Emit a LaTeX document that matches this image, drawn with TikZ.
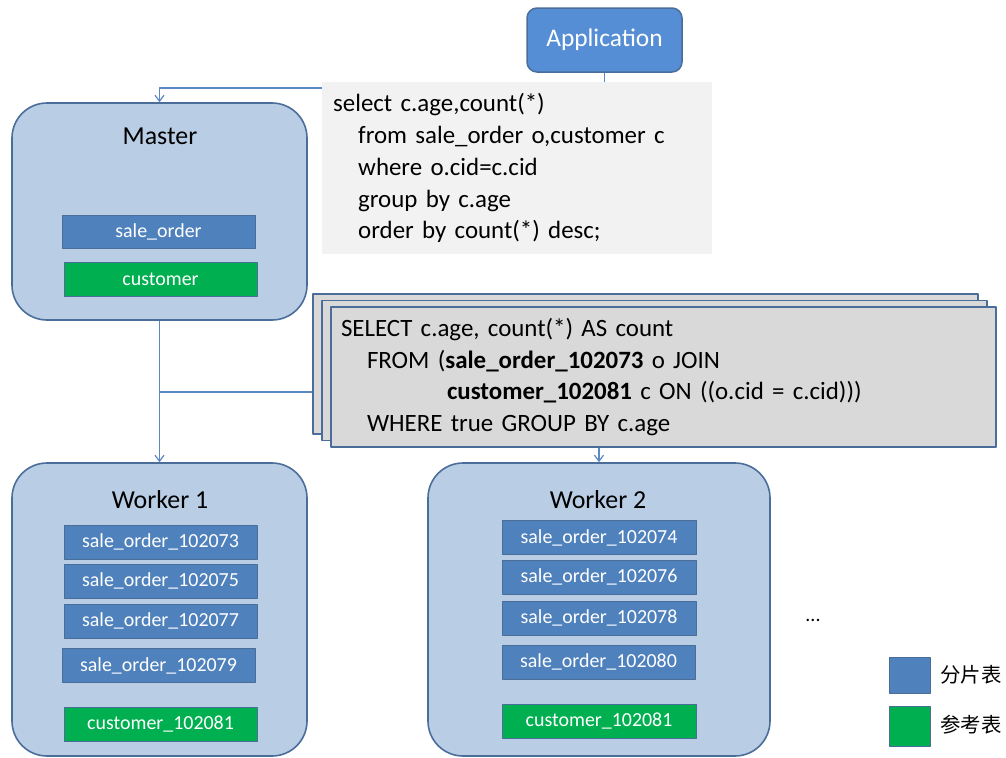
\documentclass[tikz,border=0pt]{standalone}
\usepackage{fontspec}
\setmainfont{Carlito}
\newfontfamily\cjk{Noto Sans CJK SC}
\usetikzlibrary{arrows.meta}

\definecolor{hostfill}{HTML}{B9CDE5}
\definecolor{hostline}{HTML}{4A6D9A}
\definecolor{appfill}{HTML}{558ED5}
\definecolor{shardfill}{HTML}{4F81BD}
\definecolor{reffill}{HTML}{00B050}
\definecolor{sqlfill}{HTML}{F2F2F2}
\definecolor{planfill}{HTML}{D9D9D9}
\definecolor{connline}{HTML}{5B87C5}

\begin{document}
\begin{tikzpicture}[>={Straight Barb[length=6bp,width=9bp]},line join=bevel,
  host/.style={draw=hostline,fill=hostfill,line width=1.6bp,rounded corners=35bp,
    inner sep=0pt},
  shard/.style={draw=hostline,fill=shardfill,line width=1bp,text=white,
    minimum width=193bp,minimum height=34bp,inner sep=0pt,font=\fontsize{20}{22}\selectfont},
  ref/.style={shard,fill=reffill},
  title/.style={font=\fontsize{26}{28}\selectfont},
  plan/.style={draw=hostline,fill=planfill,line width=1.2bp,minimum width=665bp,
    minimum height=140bp,inner sep=0pt},
  conn/.style={connline,line width=1.2bp},
]
\useasboundingbox (0bp,0bp) rectangle (1006bp,-758bp);
%%
\node (node_app) at (604.5bp,-40bp) [draw=hostline,fill=appfill,line width=1.5bp,
  rounded corners=10bp,minimum width=155bp,minimum height=64bp,text=white,
  font=\fontsize{25.5}{27}\selectfont] {Application};
\node (node_master) at (159.5bp,-211.5bp) [host,minimum width=295bp,minimum height=217bp] {};
\node (node_worker1) at (159.5bp,-609.5bp) [host,minimum width=295bp,minimum height=293bp] {};
\node (node_worker2) at (599bp,-609.5bp) [host,minimum width=342bp,minimum height=293bp] {};
\coordinate (split) at (159.5bp,-392bp);
%
\draw [conn,->] (node_app.south) -- (node_app.south |- 0bp,-88bp) -| (node_master.north);
\draw [conn,->] (node_master.south) -- (node_worker1.north);
%
\node (node_sql) at (322bp,-82bp) [anchor=north west,fill=sqlfill,minimum width=390bp,
  minimum height=170bp,text width=368bp,inner sep=11bp,align=left,
  font=\fontsize{25}{32}\selectfont] {select c.age,count(*)\\
  \hspace*{25bp}from sale\_order o,customer c\\
  \hspace*{25bp}where o.cid=c.cid\\
  \hspace*{25bp}group by c.age\\
  \hspace*{25bp}order by count(*) desc;};
%
\node (node_plan_c) at (645.5bp,-364bp) [plan] {};
\node (node_plan_b) at (654.5bp,-370.5bp) [plan] {};
\node (node_plan) at (663.5bp,-377bp) [plan,text width=645bp,align=left,
  font=\fontsize{25}{31.7}\selectfont] {SELECT c.age, count(*) AS count\\
  \hspace*{26bp}FROM (\textbf{sale\_order\_102073} o JOIN\\
  \hspace*{106bp}\textbf{customer\_102081} c ON ((o.cid = c.cid)))\\
  \hspace*{26bp}WHERE true GROUP BY c.age};
\draw [conn] (split) -- (split -| node_plan_c.west);
\draw [conn,->] (node_plan.south -| node_worker2.north) -- (node_worker2.north);
%
\node (lbl_master) at (160bp,-136bp) [title] {Master};
\node (mst_order) at (158.5bp,-231.5bp) [shard,minimum height=33bp] {sale\_order};
\node (mst_customer) at (160.5bp,-279bp) [ref] {customer};
%
\node (lbl_worker1) at (160bp,-500bp) [title] {Worker 1};
\node (w1_order_a) at (160.5bp,-542bp) [shard] {sale\_order\_102073};
\node (w1_order_b) at (160.5bp,-581bp) [shard] {sale\_order\_102075};
\node (w1_order_c) at (160.5bp,-621bp) [shard] {sale\_order\_102077};
\node (w1_order_d) at (158.5bp,-665.5bp) [shard] {sale\_order\_102079};
\node (w1_customer) at (160.5bp,-724.5bp) [ref] {customer\_102081};
%
\node (lbl_worker2) at (598bp,-500bp) [title] {Worker 2};
\node (w2_order_a) at (599bp,-537.5bp) [shard,minimum width=194bp] {sale\_order\_102074};
\node (w2_order_b) at (599bp,-577bp) [shard,minimum width=194bp] {sale\_order\_102076};
\node (w2_order_c) at (599bp,-618bp) [shard,minimum width=194bp] {sale\_order\_102078};
\node (w2_order_d) at (598.5bp,-662bp) [shard,minimum width=193bp] {sale\_order\_102080};
\node (w2_customer) at (599bp,-721bp) [ref,minimum width=194bp] {customer\_102081};
%
\node (more) at (813bp,-620bp) [font=\fontsize{20}{22}\selectfont] {...};
%
\node (key_shard) at (909.5bp,-675bp) [shard,minimum width=41bp,minimum height=36bp] {};
\node (key_ref) at (909.5bp,-726bp) [ref,minimum width=41bp,minimum height=40bp] {};
\node (key_shard_txt) at (971bp,-675bp) [font=\cjk\fontsize{20.5}{22}\selectfont] {分片表};
\node (key_ref_txt) at (971bp,-725bp) [font=\cjk\fontsize{20.5}{22}\selectfont] {参考表};
%
\end{tikzpicture}
\end{document}
